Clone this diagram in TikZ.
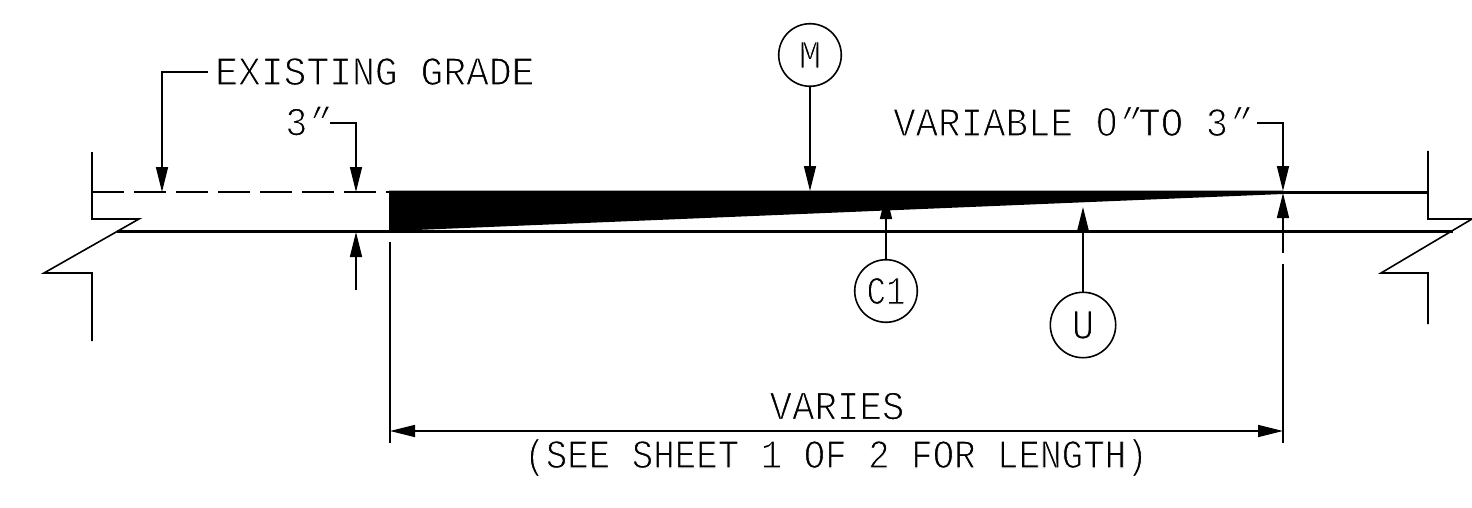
\documentclass[tikz,border=0pt]{standalone}
\usepackage{graphicx}
\usepackage{fontspec}
\setmainfont{Liberation Mono}
\newfontfamily\slantfont[FakeSlant=0.5]{Liberation Mono}
\newfontfamily\zerofont{Liberation Sans}
\usetikzlibrary{arrows.meta}
\newcommand{\thinglyph}{\special{pdf:code 2 Tr 1 1 1 RG 0.9 w}}
\newcommand{\qmark}{\hspace{-8pt}{\slantfont"}}
\newcommand{\plainzero}{\makebox[21.6pt]{\zerofont 0}}
\tikzset{
  x=1pt,y=-1pt,
  thinline/.style={line width=1.6pt,line join=miter},
  heavyline/.style={line width=3pt},
  tipped/.style={thinline,-{Triangle[length=25pt,width=12pt]}},
  bothtipped/.style={thinline,{Triangle[length=25pt,width=12pt]}-{Triangle[length=25pt,width=12pt]}},
  callout/.style={circle,draw,line width=1.6pt,inner sep=0pt,font=\fontsize{36}{36}\selectfont},
  label/.style={inner sep=0pt,font=\fontsize{36}{36}\selectfont,anchor=base west},
}
\begin{document}
\begin{tikzpicture}
\useasboundingbox (0,0) rectangle (1472,508);
% wedge
\fill (389,190.5) -- (1283,190.5) -- (1283,194) -- (392,231) -- (392,232.5) -- (389,232.5) -- cycle;
% surface lines
\coordinate (dashL) at (92,192); \coordinate (dashR) at (389,192);
\draw[thinline,dash pattern=on 32pt off 10pt] (dashL) -- (dashR);
\coordinate (baseL) at (117,231); \coordinate (baseR) at (1453,231);
\draw[heavyline] (baseL) -- (baseR);
\coordinate (topA) at (1283,192); \coordinate (topB) at (1428,192);
\draw[heavyline] (topA) -- (topB);
% break lines
\draw[thinline] (92,152) -- (92,219) -- (139,219) -- (44,273) -- (92,273) -- (92,341);
\draw[thinline] (1428,151) -- (1428,219) -- (1472,219) -- (1381,273) -- (1428,273) -- (1428,324);
% extension lines
\coordinate (extA) at (390,242); \coordinate (extB) at (390,443);
\draw[thinline] (extA) -- (extB);
\coordinate (extC) at (1283,264); \coordinate (extD) at (1283,443);
\draw[thinline] (extC) -- (extD);
% text
\node[label] (grade) at (215,85) {\thinglyph\scalebox{1.056}[1.13]{EXISTING GRADE}};
\node[label] (three) at (285,135.5) {\thinglyph\scalebox{1.03}[1.13]{3\qmark}};
\node[label] (variable) at (893,136) {\thinglyph\scalebox{1.04}[1.13]{VARIABLE \plainzero\qmark\hspace{6pt}TO 3\qmark}};
\node[label,anchor=base] (varies) at (837,419.5) {\thinglyph\scalebox{1.04}[1.13]{VARIES}};
\node[label,anchor=base] (see) at (836,468) {\thinglyph\scalebox{0.995}[1.13]{(SEE SHEET 1 OF 2 FOR LENGTH)}};
% callouts
\node[callout,minimum size=62.6pt] (M) at (810,55) {\thinglyph\scalebox{1.05}[1.1]{M}};
\node[callout,minimum size=62.6pt] (C1) at (886,291) {\thinglyph\scalebox{0.9}[1.1]{C1}};
\node[callout,minimum size=65.4pt] (U) at (1083,325) {\thinglyph\scalebox{1.05}[1.18]{U}};
% leaders
\coordinate (gradeTip) at (162,192);
\coordinate (gradeStart) at (208,72);
\draw[tipped] (gradeStart) -- (162,72) -- (gradeTip);
\coordinate (threeTip) at (356,192);
\draw[tipped] (330,123) -- (356,123) -- (threeTip);
\coordinate (threeLow) at (356,290); \coordinate (threeLowTip) at (356,232);
\draw[tipped] (threeLow) -- (threeLowTip);
\coordinate (varTip) at (1283,191);
\draw[tipped] (1257,123) -- (1283,123) -- (varTip);
\coordinate (varLow) at (1283,253); \coordinate (varLowTip) at (1283,193);
\draw[tipped] (varLow) -- (varLowTip);
\coordinate (mTip) at (810,191);
\draw[tipped] (M) -- (mTip);
\coordinate (cTip) at (886,194);
\draw[tipped] (C1) -- (cTip);
\coordinate (uTip) at (1083,207);
\draw[tipped] (U) -- (uTip);
% dimension
\coordinate (dimL) at (390,431); \coordinate (dimR) at (1283,431);
\draw[bothtipped] (dimL) -- (dimR);
\end{tikzpicture}
\end{document}
